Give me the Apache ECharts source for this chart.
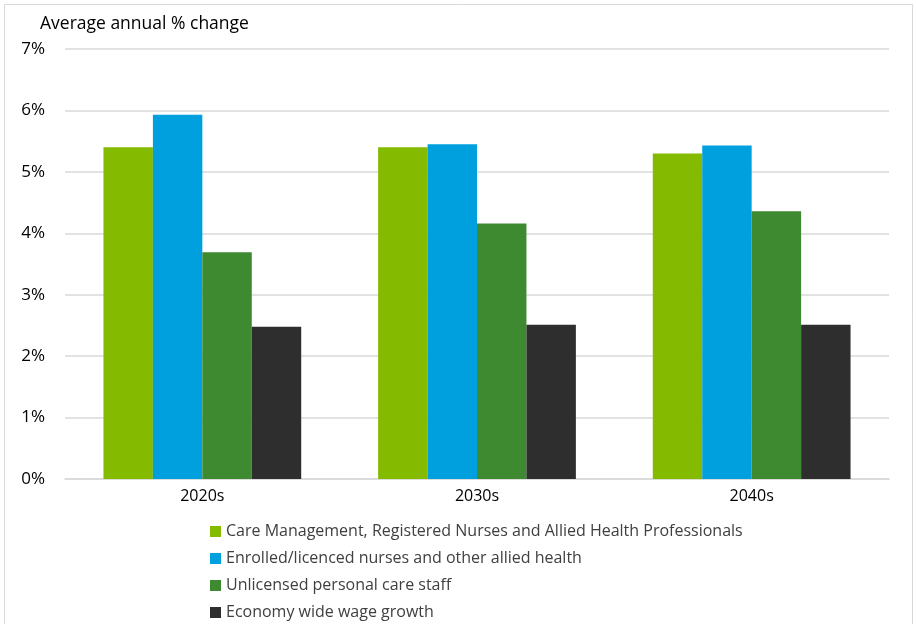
<!DOCTYPE html>
<html>
<head>
<meta charset="utf-8">
<script src="https://cdn.jsdelivr.net/npm/echarts@6/dist/echarts.min.js"></script>
<style>
  html, body { margin: 0; padding: 0; background: #fff; }
  #chart { width: 917px; height: 624px; }
</style>
</head>
<body>
<div id="chart"></div>
<script>
var categories = ["2020s", "2030s", "2040s"];
var seriesNames = [
  "Care Management, Registered Nurses and Allied Health Professionals",
  "Enrolled/licenced nurses and other allied health",
  "Unlicensed personal care staff",
  "Economy wide wage growth"
];
var careMgmt = [5.40, 5.40, 5.30];
var enrolled = [5.93, 5.45, 5.43];
var unlicensed = [3.69, 4.16, 4.36];
var economy = [2.48, 2.51, 2.51];
var yTicks = [0, 1, 2, 3, 4, 5, 6, 7];
var colors = ["#84BA00", "#00A0DF", "#3E8A31", "#2E2E2E"];

var FONT = "'Open Sans', 'Liberation Sans', sans-serif";
var chartDom = document.getElementById("chart");
var myChart = echarts.init(chartDom);

var values = [careMgmt, enrolled, unlicensed, economy];
var series = seriesNames.map(function (name, i) {
  return {
    name: name,
    type: "bar",
    data: values[i],
    barWidth: "18%",
    barGap: "0%",
    itemStyle: { color: colors[i] }
  };
});

var option = {
  animation: false,
  textStyle: { fontFamily: FONT },
  graphic: [
    {
      type: "rect",
      shape: { x: 4.5, y: 4.5, width: 908, height: 640 },
      style: { fill: "none", stroke: "#d9d9d9", lineWidth: 1 },
      silent: true
    },
    {
      type: "text",
      left: 40,
      top: 15,
      style: { text: "Average annual % change", font: "17.5px " + FONT, fill: "#000" }
    }
  ],
  grid: { left: 65, right: 28, top: 49, bottom: 145, containLabel: false },
  legend: {
    orient: "vertical",
    left: 210,
    top: 520,
    height: 130,
    padding: 0,
    icon: "rect",
    itemWidth: 11,
    itemHeight: 11,
    itemGap: 4,
    data: seriesNames,
    textStyle: { fontSize: 16, color: "#404040", fontFamily: FONT, lineHeight: 23 }
  },
  xAxis: {
    type: "category",
    data: categories,
    axisLine: { lineStyle: { color: "#d9d9d9", width: 1.5 } },
    axisTick: { show: false },
    axisLabel: { fontSize: 16, color: "#000", margin: 9 }
  },
  yAxis: {
    type: "value",
    min: yTicks[0],
    max: yTicks[yTicks.length - 1],
    interval: 1,
    axisLine: { show: false },
    axisTick: { show: false },
    splitLine: { lineStyle: { color: "#d9d9d9", width: 1.5 } },
    axisLabel: { fontSize: 17, color: "#000", margin: 20, formatter: "{value}%" }
  },
  series: series
};

option && myChart.setOption(option);
</script>
</body>
</html>
